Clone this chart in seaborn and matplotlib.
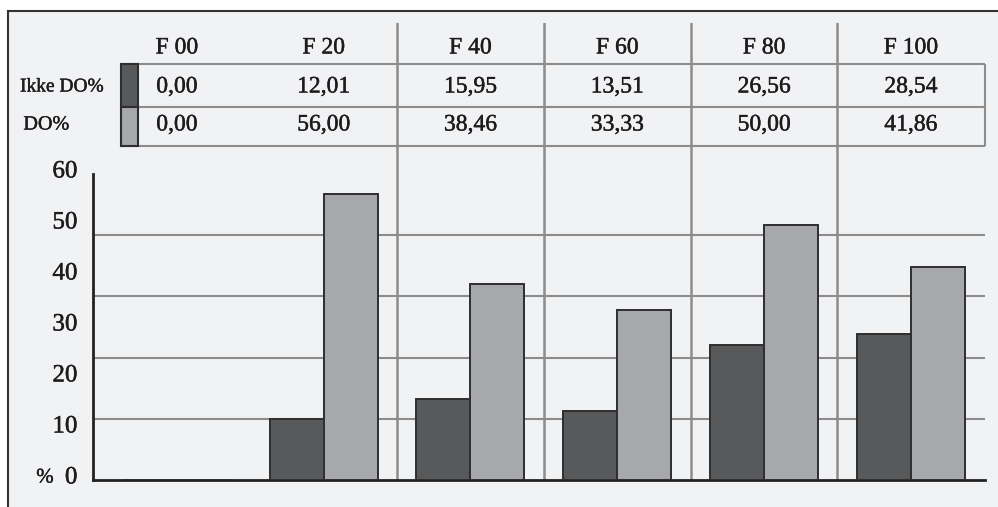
import matplotlib.pyplot as plt
import matplotlib.patheffects as pe
import matplotlib.transforms as mtransforms
import pandas as pd
import seaborn as sns
from matplotlib.patches import Rectangle
from matplotlib.ticker import MultipleLocator

# table + bar chart: Ikke DO% vs DO% per group
groups = ["F 00", "F 20", "F 40", "F 60", "F 80", "F 100"]
ikke_do = [0.00, 12.01, 15.95, 13.51, 26.56, 28.54]
do = [0.00, 56.00, 38.46, 33.33, 50.00, 41.86]
series_names = ["Ikke DO%", "DO%"]
y_ticks = [0, 10, 20, 30, 40, 50, 60]

dark = "#58595b"
light = "#a7a8ac"
line_grey = "#8c8c8c"
edge = "#2e2e2e"
text_col = "#1e1b1c"
bg = "#f1f2f4"

df = pd.DataFrame({
    "group": groups * 2,
    "series": [series_names[0]] * len(groups) + [series_names[1]] * len(groups),
    "value": ikke_do + do,
})

sns.set_style("white")
plt.rcParams["font.family"] = ["Liberation Serif", "DejaVu Serif"]
plt.rcParams["text.color"] = text_col
heavy = [pe.withStroke(linewidth=0.3, foreground=text_col)]

W, H = 998, 507
fig = plt.figure(figsize=(W / 100, H / 100), dpi=100, facecolor="white")
fig.patches.append(Rectangle((8 / W, -0.1), 1.2, 1.1 - 11 / H, transform=fig.transFigure,
                             facecolor=bg, edgecolor="#333333", lw=1.5, zorder=-1))

left, right = 92.7 / W, 985 / W
ax = fig.add_axes([left, 1 - 480 / H, right - left, (480 - 174) / H])
ax_t = fig.add_axes([left, 1 - 174 / H, right - left, (174 - 23) / H])
xlim = (-0.573, 5.505)

sns.barplot(data=df, x="group", y="value", hue="series", palette=[dark, light],
            width=0.736, gap=0, saturation=1, edgecolor=edge, linewidth=1.4,
            errorbar=None, legend=False, ax=ax, zorder=3)

ax.set_facecolor("none")
ax.set_xlim(xlim)
ax.set_ylim(0, 60)
ax.set_xticks([])
ax.set_xlabel("")
ax.set_ylabel("")
ax.yaxis.set_minor_locator(MultipleLocator(12))
ax.grid(which="minor", axis="y", color=line_grey, lw=1.5)
ax.grid(which="major", visible=False)
ax.set_axisbelow(True)
ax.set_yticks(y_ticks)
ax.set_yticklabels([str(t) for t in y_ticks], fontsize=18, color=text_col)
ax.tick_params(which="both", length=0)
ax.tick_params(axis="y", pad=11)
shift = mtransforms.ScaledTranslation(0, 0.05, fig.dpi_scale_trans)
for lbl in ax.get_yticklabels():
    lbl.set_transform(lbl.get_transform() + shift)
    lbl.set_path_effects(heavy)
for s in ["top", "right"]:
    ax.spines[s].set_visible(False)
for s in ["left", "bottom"]:
    ax.spines[s].set_color("#222222")
    ax.spines[s].set_linewidth(2)
fig.text(45 / W, 1 - 478 / H, "%", ha="center", va="center", fontsize=15, path_effects=heavy)

# category separators through table and plot
for k in range(1, len(groups) - 1):
    ax.axvline(k + 0.5, color=line_grey, lw=1.8, zorder=1)
    ax_t.axvline(k + 0.5, color=line_grey, lw=1.8, zorder=1)

# table on top
ax_t.set_xlim(xlim)
ax_t.set_ylim(174, 23)
ax_t.axis("off")
sx0, sx1 = -0.380, -0.264
xr = xlim[1]
ax_t.hlines([64, 107, 146], sx0, xr, color=line_grey, lw=1.5, clip_on=False)
ax_t.vlines(xr, 64, 146, color=line_grey, lw=1.5, clip_on=False)
ax_t.add_patch(Rectangle((sx0, 64), sx1 - sx0, 43, facecolor=dark, edgecolor=edge, lw=1.5, zorder=3))
ax_t.add_patch(Rectangle((sx0, 107), sx1 - sx0, 39, facecolor=light, edgecolor=edge, lw=1.5, zorder=3))

for i, g in enumerate(groups):
    ax_t.text(i, 48, g, ha="center", va="center", fontsize=17, path_effects=heavy)
for row_y, vals in [(87, ikke_do), (125, do)]:
    for i, v in enumerate(vals):
        ax_t.text(i, row_y, f"{v:.2f}".replace(".", ","), ha="center", va="center",
                  fontsize=17, path_effects=heavy)
ax_t.text(-1.068, 87, series_names[0], ha="left", va="center", fontsize=14, path_effects=heavy)
ax_t.text(-1.045, 125, series_names[1], ha="left", va="center", fontsize=14.5, path_effects=heavy)

fig.savefig("out.png", dpi=100)
